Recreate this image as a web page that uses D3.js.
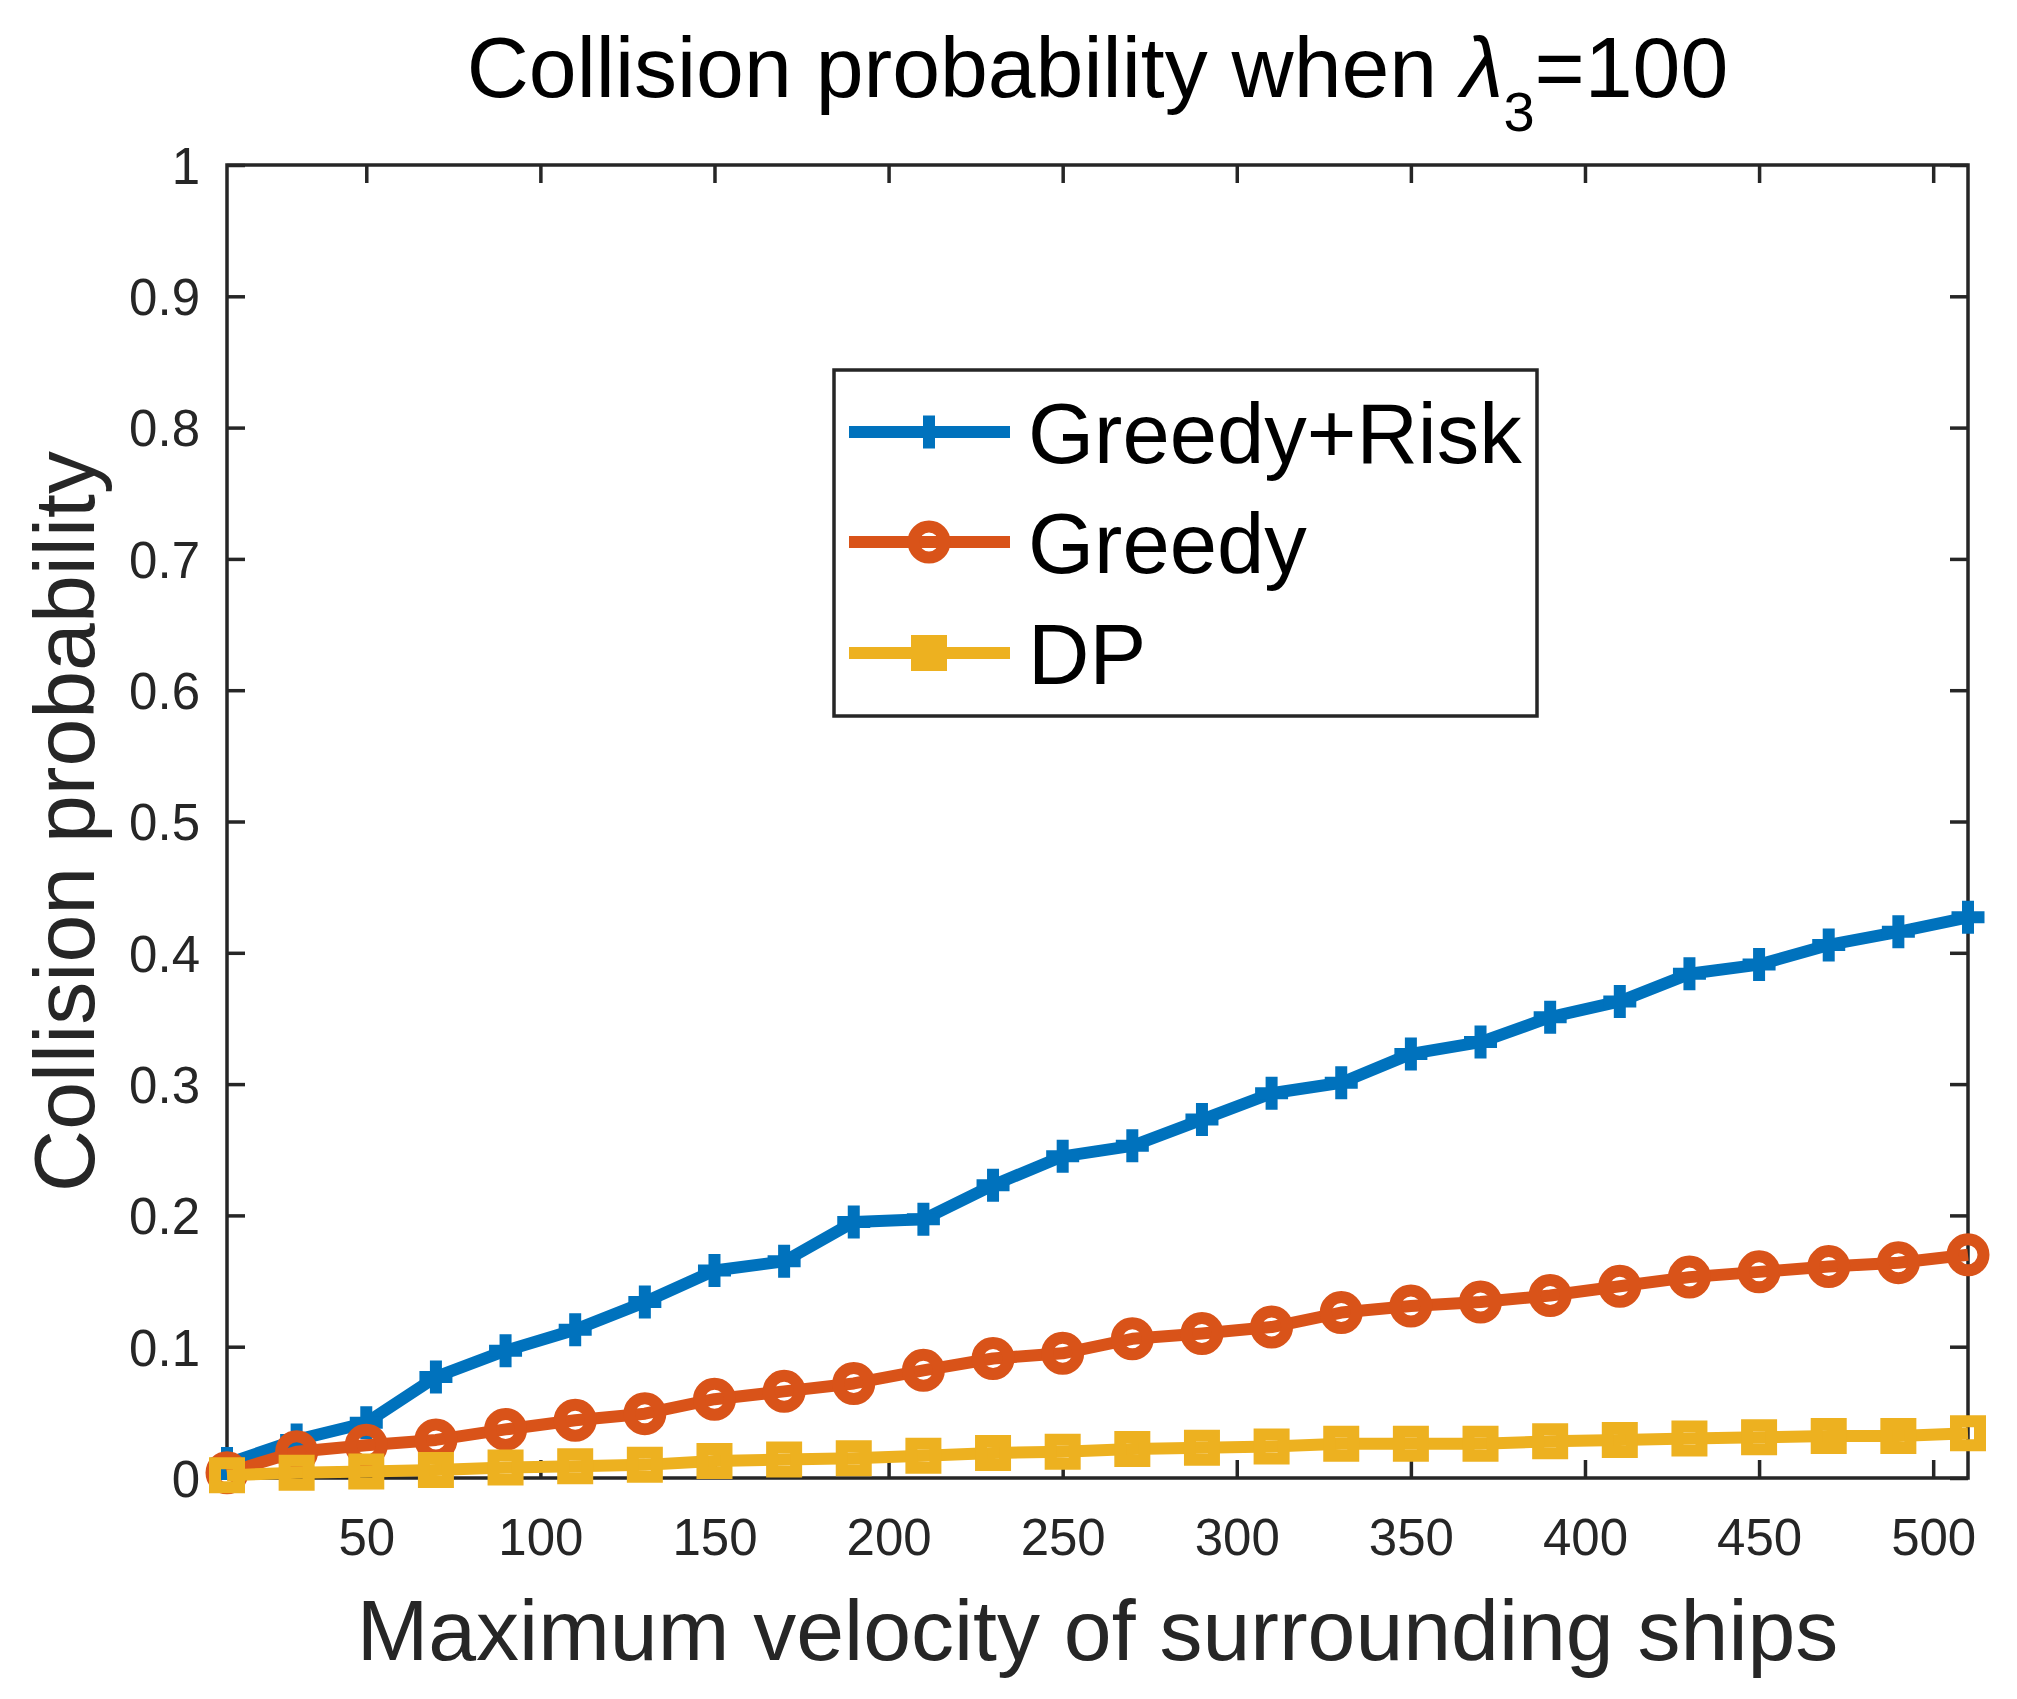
<!DOCTYPE html>
<html>
<head>
<meta charset="utf-8">
<title>collisionProb</title>
<script src="https://d3js.org/d3.v7.min.js"></script>
<style>
  body { margin: 0; background: #fff; }
  text { font-family: "Liberation Sans", Arial, Helvetica, sans-serif; }
</style>
</head>
<body>
<svg width="2017" height="1699" id="mainsvg"></svg>
<script>
// velocity values on the x axis
const velocity = [10, 30, 50, 70, 90, 110, 130, 150, 170, 190, 210, 230, 250,
                  270, 290, 310, 330, 350, 370, 390, 410, 430, 450, 470, 490, 510];

const greedyRisk = [0.011, 0.029, 0.042, 0.077, 0.097, 0.113, 0.134, 0.158, 0.165,
                    0.195, 0.197, 0.223, 0.245, 0.253, 0.273, 0.293, 0.301, 0.323,
                    0.332, 0.351, 0.363, 0.384, 0.391, 0.406, 0.416, 0.427];
const greedy = [0.004, 0.020, 0.025, 0.029, 0.037, 0.044, 0.049, 0.060, 0.066,
                0.072, 0.082, 0.091, 0.095, 0.106, 0.110, 0.115, 0.126, 0.131,
                0.134, 0.139, 0.146, 0.153, 0.157, 0.161, 0.164, 0.170];
const dp = [0.002, 0.004, 0.005, 0.006, 0.008, 0.009, 0.010, 0.013, 0.014,
            0.015, 0.017, 0.019, 0.020, 0.022, 0.023, 0.024, 0.026, 0.026,
            0.026, 0.028, 0.029, 0.030, 0.031, 0.032, 0.032, 0.034];

const seriesNames = ['Greedy+Risk', 'Greedy', 'DP'];
const xTicks = [50, 100, 150, 200, 250, 300, 350, 400, 450, 500];
const yTicks = [0, 0.1, 0.2, 0.3, 0.4, 0.5, 0.6, 0.7, 0.8, 0.9, 1];

const svg = d3.select('#mainsvg');
const margin = { left: 227, right: 2017 - 1968, top: 165, bottom: 1699 - 1478 };
const innerWidth = 2017 - margin.left - margin.right;
const innerHeight = 1699 - margin.top - margin.bottom;
const axisColor = '#262626';

const xScale = d3.scaleLinear().domain([10, 510]).range([0, innerWidth]);
const yScale = d3.scaleLinear().domain([0, 1]).range([innerHeight, 0]);

const g = svg.append('g')
    .attr('transform', `translate(${margin.left}, ${margin.top})`);

// ticks point inwards on all four sides, like matlab with box on
const tickLen = 18;
const styleAxis = sel => {
    sel.attr('font-size', null).attr('font-family', null);
    sel.select('.domain').remove();
    sel.selectAll('line').attr('stroke', axisColor).attr('stroke-width', 3.5);
    sel.selectAll('text').attr('fill', axisColor).attr('font-size', 51);
};

const xAxis = d3.axisBottom(xScale).tickValues(xTicks)
    .tickSizeInner(-tickLen).tickSizeOuter(0).tickFormat(d3.format('~g'));
const xg = g.append('g').attr('transform', `translate(0, ${innerHeight})`).call(xAxis).call(styleAxis);
xg.selectAll('text').attr('y', 77).attr('dy', null);

const yAxis = d3.axisLeft(yScale).tickValues(yTicks)
    .tickSizeInner(-tickLen).tickSizeOuter(0).tickFormat(d3.format('~g'));
const yg = g.append('g').call(yAxis).call(styleAxis);
yg.selectAll('text').attr('x', -27).attr('dy', '0.36em');

g.append('g').call(d3.axisTop(xScale).tickValues(xTicks).tickSizeInner(-tickLen)
    .tickSizeOuter(0).tickFormat('')).call(styleAxis);
g.append('g').attr('transform', `translate(${innerWidth}, 0)`)
    .call(d3.axisRight(yScale).tickValues(yTicks).tickSizeInner(-tickLen)
    .tickSizeOuter(0).tickFormat('')).call(styleAxis);

g.append('rect')
    .attr('width', innerWidth).attr('height', innerHeight)
    .attr('fill', 'none').attr('stroke', axisColor).attr('stroke-width', 3.5);

// series
const colors = ['#0072BD', '#D95319', '#EDB120'];
const lineW = 12;
const markerPath = [
    'M-16.5,0H16.5M0,-16.5V16.5',                          // plus
    d3.arc()({ innerRadius: 0, outerRadius: 15.5, startAngle: 0, endAngle: 2 * Math.PI }), // circle
    'M-12,-12H12V12H-12Z'                                 // square
];
const allSeries = [greedyRisk, greedy, dp];

const line = d3.line()
    .x((d, i) => xScale(velocity[i]))
    .y(d => yScale(d));

allSeries.forEach((vals, k) => {
    const sg = g.append('g').attr('class', 'series');
    sg.append('path')
        .attr('d', line(vals))
        .attr('fill', 'none')
        .attr('stroke', colors[k])
        .attr('stroke-width', lineW)
        .attr('stroke-linejoin', 'round');
    sg.selectAll('path.marker')
        .data(vals)
        .join('path')
        .attr('class', 'marker')
        .attr('d', markerPath[k])
        .attr('transform', (d, i) => `translate(${xScale(velocity[i])}, ${yScale(d)})`)
        .attr('fill', 'none')
        .attr('stroke', colors[k])
        .attr('stroke-width', lineW);
});

// axis labels
g.append('text')
    .text('Maximum velocity of surrounding ships')
    .attr('x', innerWidth / 2)
    .attr('y', 1660 - margin.top)
    .attr('text-anchor', 'middle')
    .attr('font-size', 86)
    .attr('fill', axisColor);

g.append('text')
    .text('Collision probability')
    .attr('transform', `translate(${94 - margin.left}, ${innerHeight / 2}) rotate(-90)`)
    .attr('text-anchor', 'middle')
    .attr('font-size', 86)
    .attr('fill', axisColor);

// title with lambda_3
const title = g.append('text')
    .attr('x', innerWidth / 2)
    .attr('y', 97 - margin.top)
    .attr('text-anchor', 'middle')
    .attr('font-size', 86)
    .attr('fill', '#000');
title.append('tspan').text('Collision probability when ');
title.append('tspan').text('λ').attr('font-style', 'italic');
title.append('tspan').text('3').attr('font-size', 56).attr('dy', 34);
title.append('tspan').text('=100').attr('dy', -34);

// legend
const legend = svg.append('g').attr('transform', 'translate(834, 370)');
legend.append('rect')
    .attr('width', 703).attr('height', 346)
    .attr('fill', '#fff').attr('stroke', axisColor).attr('stroke-width', 3.5);
const rowY = [62, 172, 283];
seriesNames.forEach((name, k) => {
    const row = legend.append('g').attr('transform', `translate(0, ${rowY[k]})`);
    row.append('line')
        .attr('x1', 15).attr('x2', 176)
        .attr('stroke', colors[k]).attr('stroke-width', lineW);
    row.append('path')
        .attr('d', markerPath[k])
        .attr('transform', 'translate(95, 0)')
        .attr('fill', 'none').attr('stroke', colors[k]).attr('stroke-width', lineW);
    row.append('text')
        .text(name)
        .attr('x', 194)
        .attr('dy', '0.36em')
        .attr('font-size', 85)
        .attr('fill', '#000');
});
</script>
</body>
</html>
